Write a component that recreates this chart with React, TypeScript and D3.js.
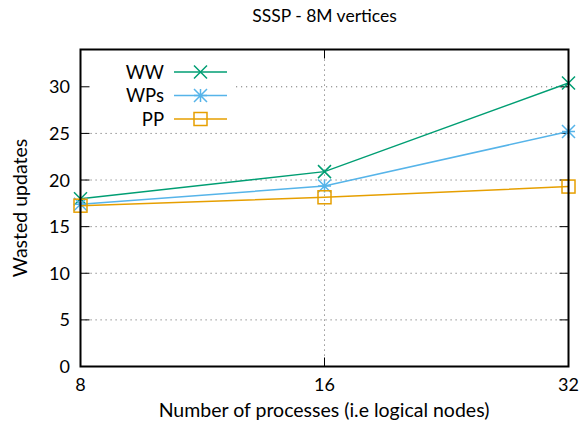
import React from "react";
import * as d3 from "d3";

const procs = [8, 16, 32];
const wwValues = [18.0, 20.9, 30.4];
const wpsValues = [17.4, 19.35, 25.2];
const ppValues = [17.25, 18.15, 19.3];
const yTicks = [0, 5, 10, 15, 20, 25, 30];
const xTicks = [8, 16, 32];
const seriesNames = ["WW", "WPs", "PP"];
const seriesColors = ["#009e73", "#56b4e9", "#e69f00"];
const seriesMarkers = ["x", "star", "square"];

const W = 581, H = 445;
const L = 80.5, R = 568.5, T = 49.5, B = 366.5;
const FONT = "Lato, 'Open Sans', sans-serif";

function Marker({ type, x, y, color }: { type: string; x: number; y: number; color: string }) {
  const s = 6.5;
  if (type === "x") {
    return (
      <path d={`M${x - s},${y - s}L${x + s},${y + s}M${x - s},${y + s}L${x + s},${y - s}`} stroke={color} strokeWidth={1.5} fill="none" />
    );
  }
  if (type === "star") {
    return (
      <path d={`M${x - s},${y - s}L${x + s},${y + s}M${x - s},${y + s}L${x + s},${y - s}M${x - s},${y}L${x + s},${y}M${x},${y - s}L${x},${y + s}`} stroke={color} strokeWidth={1.5} fill="none" />
    );
  }
  return <rect x={x - s} y={y - s} width={2 * s} height={2 * s} stroke={color} strokeWidth={1.5} fill="none" />;
}

export default function App() {
  const x = d3.scaleLog().base(2).domain([8, 32]).range([L, R]);
  const y = d3.scaleLinear().domain([0, 34]).range([B, T]);
  const series = [wwValues, wpsValues, ppValues];
  const line = d3.line<number>().x((_, i) => x(procs[i])).y((d) => y(d));
  const keyRight = 236;
  const keyBottom = 132;
  const gridDash = "1.2,3.8";

  return (
    <svg width={W} height={H} style={{ position: "absolute", left: 0, top: 0 }} fontFamily={FONT}>
      <rect width={W} height={H} fill="white" />
      <text x={(L + R) / 2} y={22} textAnchor="middle" fontSize={17.5} fill="#000">SSSP - 8M vertices</text>
      {/* grid */}
      {yTicks.filter((t) => t > 0).map((t) => (
        <line key={"gy" + t} x1={y(t) < keyBottom ? keyRight : L} x2={R} y1={y(t)} y2={y(t)} stroke="#777" strokeWidth={1} strokeDasharray={gridDash} />
      ))}
      {xTicks.filter((t) => t !== 8 && t !== 32).map((t) => (
        <line key={"gx" + t} x1={x(t)} x2={x(t)} y1={T} y2={B} stroke="#777" strokeWidth={1} strokeDasharray={gridDash} />
      ))}
      {/* ticks */}
      {yTicks.map((t) => (
        <g key={"ty" + t}>
          <line x1={L} x2={L + 9} y1={y(t)} y2={y(t)} stroke="#000" strokeWidth={1} />
          <line x1={R - 9} x2={R} y1={y(t)} y2={y(t)} stroke="#000" strokeWidth={1} />
          <text x={70} y={y(t)} dy="0.36em" textAnchor="end" fontSize={18} fill="#000">{t}</text>
        </g>
      ))}
      {xTicks.map((t) => (
        <g key={"tx" + t}>
          <line x1={x(t)} x2={x(t)} y1={B} y2={B - 9} stroke="#000" strokeWidth={1} />
          <line x1={x(t)} x2={x(t)} y1={T} y2={T + 9} stroke="#000" strokeWidth={1} />
          <text x={x(t)} y={391} textAnchor="middle" fontSize={18} fill="#000">{t}</text>
        </g>
      ))}
      {/* data */}
      {series.map((vals, si) => (
        <g key={"s" + si}>
          <path d={line(vals) || ""} stroke={seriesColors[si]} strokeWidth={1.5} fill="none" />
          {vals.map((v, i) => (
            <Marker key={i} type={seriesMarkers[si]} x={x(procs[i])} y={y(v)} color={seriesColors[si]} />
          ))}
        </g>
      ))}
      {/* legend */}
      {seriesNames.map((n, i) => {
        const ly = 72 + i * 23.5;
        return (
          <g key={"lg" + n}>
            <text x={164} y={ly} dy="0.36em" textAnchor="end" fontSize={18.5} fill="#000">{n}</text>
            <line x1={174} x2={227} y1={ly} y2={ly} stroke={seriesColors[i]} strokeWidth={1.5} />
            <Marker type={seriesMarkers[i]} x={200.5} y={ly} color={seriesColors[i]} />
          </g>
        );
      })}
      {/* frame */}
      <rect x={L} y={T} width={R - L} height={B - T} fill="none" stroke="#000" strokeWidth={2} />
      <text x={324} y={417} textAnchor="middle" fontSize={19.5} fill="#000">Number of processes (i.e logical nodes)</text>
      <text transform={`translate(27,${(T + B) / 2}) rotate(-90)`} textAnchor="middle" fontSize={19.5} fill="#000">Wasted updates</text>
    </svg>
  );
}
